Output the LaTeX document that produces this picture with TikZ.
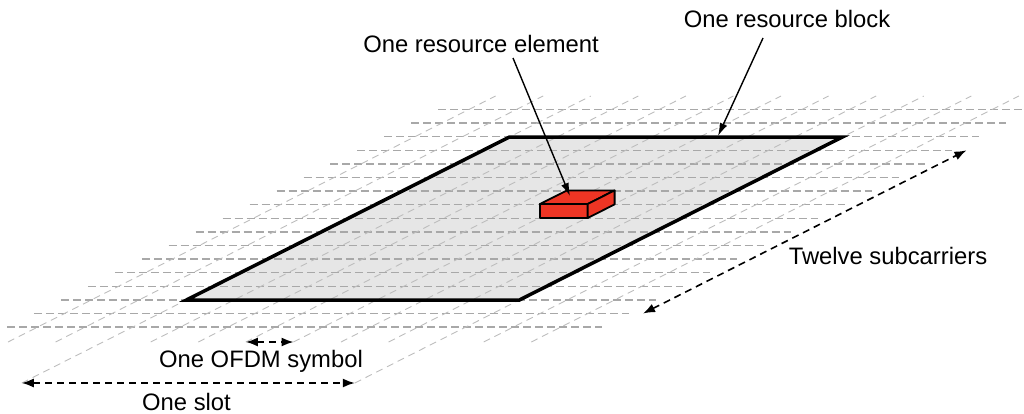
\documentclass[tikz,border=0pt]{standalone}
\usepackage{fontspec}
\setmainfont{Liberation Sans}
\usetikzlibrary{arrows.meta}
\definecolor{gridH}{HTML}{A8A8A8}
\definecolor{gridD}{HTML}{BDBDBD}
\definecolor{rbFill}{HTML}{E6E6E6}
\definecolor{reRed}{HTML}{EE3524}
\begin{document}
\begin{tikzpicture}[x=1pt,y=-1pt,
  hgrid/.style={draw=gridH, line width=1.4pt, dash pattern=on 8pt off 4pt},
  dgrid/.style={draw=gridD, line width=0.9pt, dash pattern=on 7pt off 5pt},
  rbbox/.style={draw=black, line width=3.5pt, line join=miter},
  rebox/.style={draw=black, fill=reRed, line width=1.8pt, line join=round},
  pointer/.style={draw=black, line width=1.4pt, -{Latex[length=13pt,width=8pt]}},
  measure/.style={draw=black, line width=1.6pt, dash pattern=on 7pt off 5pt,
     {Latex[length=12pt,width=9pt]}-{Latex[length=12pt,width=9pt]}},
  lbl/.style={font=\fontsize{23.8}{28}\selectfont, inner sep=0pt, anchor=base}
]
\useasboundingbox (0,0) rectangle (1024,413);

% resource block fill
\coordinate (rbBL) at (186.4,300);
\coordinate (rbBR) at (519.4,300);
\coordinate (rbTR) at (842.4,137);
\coordinate (rbTL) at (509.4,137);
\fill[rbFill] (rbBL) -- (rbBR) -- (rbTR) -- (rbTL) -- cycle;

% horizontal (subcarrier) grid lines
\foreach \i in {0,...,16}{
  \pgfmathsetmacro{\yy}{109.5+13.6*\i}
  \pgfmathsetmacro{\xl}{7+(327.1-\yy)*1.982}
  \pgfmathsetmacro{\xr}{\xl+595}
  \draw[hgrid] (\xl,\yy) -- (\xr,\yy);
}
% slanted (symbol) grid lines
\foreach \k in {0,1,3,4,5,6,7,8,10,11}{
  \pgfmathsetmacro{\xb}{8+47.57*\k}
  \pgfmathsetmacro{\xt}{\xb+487.6}
  \draw[dgrid] (\xb,342) -- (\xt,96);
}
\foreach \k in {2,9}{
  \pgfmathsetmacro{\xb}{8+47.57*\k-81.3}
  \pgfmathsetmacro{\xt}{8+47.57*\k+487.6}
  \draw[dgrid] (\xb,383) -- (\xt,96);
}

% resource block outline
\draw[rbbox] (rbBL) -- (rbBR) -- (rbTR) -- (rbTL) -- cycle;

% resource element box
\coordinate (reA) at (540,218);
\coordinate (reB) at (587.6,218);
\coordinate (reC) at (587.6,204);
\coordinate (reD) at (540,204);
\coordinate (reE) at (614.6,190.4);
\coordinate (reF) at (567,190.4);
\coordinate (reG) at (614.6,204.4);
\draw[rebox] (reA) -- (reB) -- (reC) -- (reD) -- cycle;
\draw[rebox] (reD) -- (reC) -- (reE) -- (reF) -- cycle;
\draw[rebox] (reC) -- (reE) -- (reG) -- (reB) -- cycle;

% labels
\node[lbl] (reLbl) at (481,52) {One resource element};
\node[lbl] (rbLbl) at (787,27) {One resource block};
\node[lbl] (scLbl) at (888,264.5) {Twelve subcarriers};
\node[lbl] (symLbl) at (261,367) {One OFDM symbol};
\node[lbl] (slotLbl) at (186.5,410) {One slot};

% pointers
\coordinate (reFrom) at (513,58);
\coordinate (reTo) at (570,196);
\coordinate (rbFrom) at (763,38);
\coordinate (rbTo) at (718,136);
\draw[pointer] (reFrom) -- (reTo);
\draw[pointer] (rbFrom) -- (rbTo);

% measurement arrows
\coordinate (scA) at (643,313.5);
\coordinate (scB) at (966.5,150.3);
\draw[measure] (scA) -- (scB);
\coordinate (symA) at (245.9,342);
\coordinate (symB) at (293.5,342);
\draw[measure] (symA) -- (symB);
\coordinate (slotA) at (21.8,383);
\coordinate (slotB) at (354.8,383);
\draw[measure] (slotA) -- (slotB);
\end{tikzpicture}
\end{document}
